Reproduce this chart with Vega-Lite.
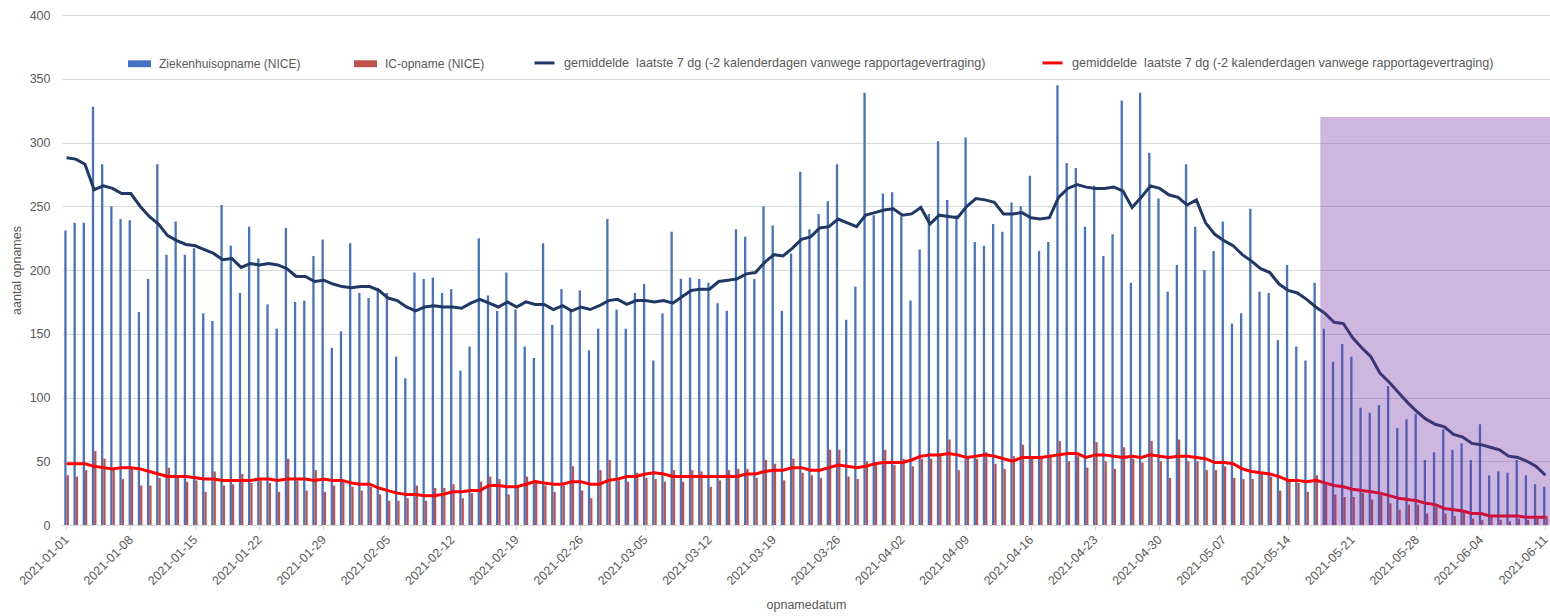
{
"$schema": "https://vega.github.io/schema/vega-lite/v6.json",
"width": 1488, "height": 510,
"autosize": {"type": "none"},
"padding": {"left": 62, "top": 15, "right": 0, "bottom": 91},
"background": "white",
"config": {"font": "Liberation Sans", "view": {"stroke": null}},
"datasets": {"main": [
{"d":"2021-01-01","zh":231,"ic":39,"zh7":288,"ic7":48},
{"d":"2021-01-02","zh":237,"ic":38,"zh7":287,"ic7":48},
{"d":"2021-01-03","zh":237,"ic":43,"zh7":283,"ic7":48},
{"d":"2021-01-04","zh":328,"ic":58,"zh7":263,"ic7":46},
{"d":"2021-01-05","zh":283,"ic":52,"zh7":266,"ic7":45},
{"d":"2021-01-06","zh":250,"ic":44,"zh7":264,"ic7":44},
{"d":"2021-01-07","zh":240,"ic":36,"zh7":260,"ic7":45},
{"d":"2021-01-08","zh":239,"ic":44,"zh7":260,"ic7":45},
{"d":"2021-01-09","zh":167,"ic":31,"zh7":250,"ic7":44},
{"d":"2021-01-10","zh":193,"ic":31,"zh7":242,"ic7":42},
{"d":"2021-01-11","zh":283,"ic":37,"zh7":236,"ic7":40},
{"d":"2021-01-12","zh":212,"ic":45,"zh7":227,"ic7":38},
{"d":"2021-01-13","zh":238,"ic":37,"zh7":223,"ic7":38},
{"d":"2021-01-14","zh":212,"ic":34,"zh7":220,"ic7":38},
{"d":"2021-01-15","zh":217,"ic":35,"zh7":219,"ic7":37},
{"d":"2021-01-16","zh":166,"ic":26,"zh7":216,"ic7":36},
{"d":"2021-01-17","zh":160,"ic":42,"zh7":213,"ic7":36},
{"d":"2021-01-18","zh":251,"ic":31,"zh7":208,"ic7":35},
{"d":"2021-01-19","zh":219,"ic":32,"zh7":209,"ic7":35},
{"d":"2021-01-20","zh":182,"ic":40,"zh7":202,"ic7":35},
{"d":"2021-01-21","zh":234,"ic":33,"zh7":205,"ic7":35},
{"d":"2021-01-22","zh":209,"ic":35,"zh7":204,"ic7":36},
{"d":"2021-01-23","zh":173,"ic":33,"zh7":205,"ic7":36},
{"d":"2021-01-24","zh":154,"ic":26,"zh7":204,"ic7":35},
{"d":"2021-01-25","zh":233,"ic":52,"zh7":201,"ic7":36},
{"d":"2021-01-26","zh":175,"ic":35,"zh7":195,"ic7":36},
{"d":"2021-01-27","zh":176,"ic":27,"zh7":195,"ic7":36},
{"d":"2021-01-28","zh":211,"ic":43,"zh7":191,"ic7":35},
{"d":"2021-01-29","zh":224,"ic":26,"zh7":192,"ic7":36},
{"d":"2021-01-30","zh":139,"ic":31,"zh7":189,"ic7":35},
{"d":"2021-01-31","zh":152,"ic":35,"zh7":187,"ic7":35},
{"d":"2021-02-01","zh":221,"ic":30,"zh7":186,"ic7":33},
{"d":"2021-02-02","zh":182,"ic":27,"zh7":187,"ic7":32},
{"d":"2021-02-03","zh":178,"ic":30,"zh7":187,"ic7":32},
{"d":"2021-02-04","zh":186,"ic":24,"zh7":184,"ic7":29},
{"d":"2021-02-05","zh":182,"ic":19,"zh7":178,"ic7":27},
{"d":"2021-02-06","zh":132,"ic":19,"zh7":176,"ic7":25},
{"d":"2021-02-07","zh":115,"ic":21,"zh7":171,"ic7":24},
{"d":"2021-02-08","zh":198,"ic":31,"zh7":168,"ic7":24},
{"d":"2021-02-09","zh":193,"ic":19,"zh7":171,"ic7":23},
{"d":"2021-02-10","zh":194,"ic":29,"zh7":172,"ic7":23},
{"d":"2021-02-11","zh":182,"ic":29,"zh7":171,"ic7":24},
{"d":"2021-02-12","zh":185,"ic":32,"zh7":171,"ic7":26},
{"d":"2021-02-13","zh":121,"ic":21,"zh7":170,"ic7":26},
{"d":"2021-02-14","zh":140,"ic":25,"zh7":174,"ic7":27},
{"d":"2021-02-15","zh":225,"ic":34,"zh7":177,"ic7":27},
{"d":"2021-02-16","zh":180,"ic":38,"zh7":174,"ic7":31},
{"d":"2021-02-17","zh":168,"ic":36,"zh7":171,"ic7":31},
{"d":"2021-02-18","zh":198,"ic":24,"zh7":175,"ic7":30},
{"d":"2021-02-19","zh":169,"ic":30,"zh7":171,"ic7":30},
{"d":"2021-02-20","zh":140,"ic":38,"zh7":175,"ic7":32},
{"d":"2021-02-21","zh":131,"ic":35,"zh7":173,"ic7":34},
{"d":"2021-02-22","zh":221,"ic":31,"zh7":173,"ic7":33},
{"d":"2021-02-23","zh":157,"ic":26,"zh7":169,"ic7":32},
{"d":"2021-02-24","zh":185,"ic":31,"zh7":172,"ic7":32},
{"d":"2021-02-25","zh":168,"ic":46,"zh7":168,"ic7":34},
{"d":"2021-02-26","zh":184,"ic":27,"zh7":171,"ic7":34},
{"d":"2021-02-27","zh":137,"ic":21,"zh7":169,"ic7":32},
{"d":"2021-02-28","zh":154,"ic":43,"zh7":172,"ic7":32},
{"d":"2021-03-01","zh":240,"ic":51,"zh7":176,"ic7":35},
{"d":"2021-03-02","zh":169,"ic":35,"zh7":177,"ic7":36},
{"d":"2021-03-03","zh":154,"ic":34,"zh7":173,"ic7":38},
{"d":"2021-03-04","zh":182,"ic":41,"zh7":176,"ic7":38},
{"d":"2021-03-05","zh":189,"ic":37,"zh7":176,"ic7":40},
{"d":"2021-03-06","zh":129,"ic":36,"zh7":175,"ic7":41},
{"d":"2021-03-07","zh":166,"ic":34,"zh7":176,"ic7":40},
{"d":"2021-03-08","zh":230,"ic":43,"zh7":174,"ic7":38},
{"d":"2021-03-09","zh":193,"ic":34,"zh7":179,"ic7":38},
{"d":"2021-03-10","zh":194,"ic":43,"zh7":184,"ic7":38},
{"d":"2021-03-11","zh":193,"ic":42,"zh7":185,"ic7":38},
{"d":"2021-03-12","zh":190,"ic":30,"zh7":185,"ic7":38},
{"d":"2021-03-13","zh":174,"ic":35,"zh7":191,"ic7":38},
{"d":"2021-03-14","zh":168,"ic":43,"zh7":192,"ic7":38},
{"d":"2021-03-15","zh":232,"ic":44,"zh7":193,"ic7":38},
{"d":"2021-03-16","zh":226,"ic":44,"zh7":197,"ic7":40},
{"d":"2021-03-17","zh":193,"ic":37,"zh7":198,"ic7":40},
{"d":"2021-03-18","zh":250,"ic":51,"zh7":206,"ic7":42},
{"d":"2021-03-19","zh":235,"ic":48,"zh7":212,"ic7":43},
{"d":"2021-03-20","zh":168,"ic":35,"zh7":211,"ic7":43},
{"d":"2021-03-21","zh":213,"ic":52,"zh7":217,"ic7":45},
{"d":"2021-03-22","zh":277,"ic":41,"zh7":224,"ic7":45},
{"d":"2021-03-23","zh":232,"ic":39,"zh7":226,"ic7":43},
{"d":"2021-03-24","zh":244,"ic":37,"zh7":233,"ic7":43},
{"d":"2021-03-25","zh":254,"ic":59,"zh7":234,"ic7":45},
{"d":"2021-03-26","zh":283,"ic":59,"zh7":240,"ic7":47},
{"d":"2021-03-27","zh":161,"ic":38,"zh7":237,"ic7":46},
{"d":"2021-03-28","zh":187,"ic":36,"zh7":234,"ic7":45},
{"d":"2021-03-29","zh":339,"ic":50,"zh7":243,"ic7":46},
{"d":"2021-03-30","zh":243,"ic":47,"zh7":245,"ic7":48},
{"d":"2021-03-31","zh":260,"ic":59,"zh7":247,"ic7":49},
{"d":"2021-04-01","zh":261,"ic":47,"zh7":248,"ic7":49},
{"d":"2021-04-02","zh":242,"ic":52,"zh7":243,"ic7":49},
{"d":"2021-04-03","zh":176,"ic":46,"zh7":244,"ic7":51},
{"d":"2021-04-04","zh":216,"ic":52,"zh7":249,"ic7":54},
{"d":"2021-04-05","zh":244,"ic":52,"zh7":236,"ic7":55},
{"d":"2021-04-06","zh":301,"ic":54,"zh7":243,"ic7":55},
{"d":"2021-04-07","zh":255,"ic":67,"zh7":242,"ic7":56},
{"d":"2021-04-08","zh":243,"ic":43,"zh7":241,"ic7":55},
{"d":"2021-04-09","zh":304,"ic":54,"zh7":250,"ic7":53},
{"d":"2021-04-10","zh":222,"ic":52,"zh7":256,"ic7":54},
{"d":"2021-04-11","zh":219,"ic":57,"zh7":255,"ic7":55},
{"d":"2021-04-12","zh":236,"ic":48,"zh7":253,"ic7":54},
{"d":"2021-04-13","zh":230,"ic":44,"zh7":244,"ic7":52},
{"d":"2021-04-14","zh":253,"ic":54,"zh7":244,"ic7":50},
{"d":"2021-04-15","zh":250,"ic":63,"zh7":245,"ic7":53},
{"d":"2021-04-16","zh":274,"ic":54,"zh7":241,"ic7":53},
{"d":"2021-04-17","zh":215,"ic":54,"zh7":240,"ic7":53},
{"d":"2021-04-18","zh":222,"ic":55,"zh7":241,"ic7":54},
{"d":"2021-04-19","zh":345,"ic":66,"zh7":257,"ic7":55},
{"d":"2021-04-20","zh":284,"ic":50,"zh7":264,"ic7":56},
{"d":"2021-04-21","zh":280,"ic":54,"zh7":267,"ic7":56},
{"d":"2021-04-22","zh":234,"ic":45,"zh7":265,"ic7":53},
{"d":"2021-04-23","zh":266,"ic":65,"zh7":264,"ic7":55},
{"d":"2021-04-24","zh":211,"ic":50,"zh7":264,"ic7":55},
{"d":"2021-04-25","zh":228,"ic":44,"zh7":265,"ic7":54},
{"d":"2021-04-26","zh":333,"ic":61,"zh7":262,"ic7":53},
{"d":"2021-04-27","zh":190,"ic":52,"zh7":249,"ic7":54},
{"d":"2021-04-28","zh":339,"ic":49,"zh7":257,"ic7":53},
{"d":"2021-04-29","zh":292,"ic":66,"zh7":266,"ic7":55},
{"d":"2021-04-30","zh":256,"ic":50,"zh7":264,"ic7":54},
{"d":"2021-05-01","zh":183,"ic":37,"zh7":259,"ic7":53},
{"d":"2021-05-02","zh":204,"ic":67,"zh7":257,"ic7":54},
{"d":"2021-05-03","zh":283,"ic":50,"zh7":251,"ic7":54},
{"d":"2021-05-04","zh":234,"ic":50,"zh7":255,"ic7":53},
{"d":"2021-05-05","zh":200,"ic":43,"zh7":237,"ic7":52},
{"d":"2021-05-06","zh":215,"ic":43,"zh7":228,"ic7":49},
{"d":"2021-05-07","zh":238,"ic":46,"zh7":223,"ic7":49},
{"d":"2021-05-08","zh":158,"ic":37,"zh7":219,"ic7":48},
{"d":"2021-05-09","zh":166,"ic":36,"zh7":212,"ic7":44},
{"d":"2021-05-10","zh":248,"ic":36,"zh7":207,"ic7":42},
{"d":"2021-05-11","zh":183,"ic":40,"zh7":201,"ic7":41},
{"d":"2021-05-12","zh":182,"ic":38,"zh7":198,"ic7":40},
{"d":"2021-05-13","zh":145,"ic":27,"zh7":189,"ic7":38},
{"d":"2021-05-14","zh":204,"ic":34,"zh7":184,"ic7":35},
{"d":"2021-05-15","zh":140,"ic":33,"zh7":182,"ic7":35},
{"d":"2021-05-16","zh":129,"ic":26,"zh7":177,"ic7":34},
{"d":"2021-05-17","zh":190,"ic":39,"zh7":171,"ic7":35},
{"d":"2021-05-18","zh":154,"ic":33,"zh7":166,"ic7":33},
{"d":"2021-05-19","zh":128,"ic":24,"zh7":159,"ic7":31},
{"d":"2021-05-20","zh":142,"ic":22,"zh7":158,"ic7":30},
{"d":"2021-05-21","zh":132,"ic":22,"zh7":147,"ic7":28},
{"d":"2021-05-22","zh":92,"ic":25,"zh7":139,"ic7":27},
{"d":"2021-05-23","zh":88,"ic":20,"zh7":132,"ic7":26},
{"d":"2021-05-24","zh":94,"ic":24,"zh7":119,"ic7":25},
{"d":"2021-05-25","zh":109,"ic":17,"zh7":112,"ic7":23},
{"d":"2021-05-26","zh":76,"ic":12,"zh7":104,"ic7":21},
{"d":"2021-05-27","zh":83,"ic":16,"zh7":96,"ic7":20},
{"d":"2021-05-28","zh":87,"ic":16,"zh7":89,"ic7":19},
{"d":"2021-05-29","zh":51,"ic":9,"zh7":83,"ic7":17},
{"d":"2021-05-30","zh":57,"ic":14,"zh7":79,"ic7":16},
{"d":"2021-05-31","zh":75,"ic":9,"zh7":77,"ic7":13},
{"d":"2021-06-01","zh":59,"ic":7,"zh7":71,"ic7":12},
{"d":"2021-06-02","zh":64,"ic":11,"zh7":69,"ic7":11},
{"d":"2021-06-03","zh":51,"ic":5,"zh7":64,"ic7":9},
{"d":"2021-06-04","zh":79,"ic":4,"zh7":63,"ic7":9},
{"d":"2021-06-05","zh":39,"ic":6,"zh7":61,"ic7":7},
{"d":"2021-06-06","zh":42,"ic":4,"zh7":59,"ic7":7},
{"d":"2021-06-07","zh":41,"ic":3,"zh7":54,"ic7":7},
{"d":"2021-06-08","zh":51,"ic":5,"zh7":53,"ic7":7},
{"d":"2021-06-09","zh":39,"ic":4,"zh7":50,"ic7":6},
{"d":"2021-06-10","zh":32,"ic":5,"zh7":46,"ic7":6},
{"d":"2021-06-11","zh":30,"ic":7,"zh7":39,"ic7":6}
],
"shade": [{"s": "2021-05-18", "e": "2021-06-11", "top": 320, "bottom": 0}]
},
"layer": [
{
"data": {"name": "main"},
"transform": [{"fold": ["zh", "ic"], "as": ["k", "v"]}],
"mark": {"type": "bar"},
"encoding": {
"x": {"field": "d", "type": "ordinal", "title": "opnamedatum",
  "scale": {"paddingInner": 0, "paddingOuter": 0},
  "axis": {"values": ["2021-01-01","2021-01-08","2021-01-15","2021-01-22","2021-01-29","2021-02-05","2021-02-12","2021-02-19","2021-02-26","2021-03-05","2021-03-12","2021-03-19","2021-03-26","2021-04-02","2021-04-09","2021-04-16","2021-04-23","2021-04-30","2021-05-07","2021-05-14","2021-05-21","2021-05-28","2021-06-04","2021-06-11"],
   "labelAngle": -45, "labelAlign": "right", "labelBaseline": "top", "labelOverlap": false, "labelFontSize": 12.5, "labelColor": "#595959", "labelPadding": 3, "labelOffset": -4,
   "domainColor": "#d9d9d9", "tickColor": "#d9d9d9", "tickSize": 5, "grid": false,
   "titleFontSize": 12.5, "titleFontWeight": "normal", "titleColor": "#595959", "titlePadding": 11}},
"xOffset": {"field": "k", "type": "nominal", "scale": {"domain": ["zh", "ic"], "paddingInner": 0, "paddingOuter": 1}},
"y": {"field": "v", "type": "quantitative", "title": "aantal opnames",
  "scale": {"domain": [0, 400], "nice": false},
  "axis": {"values": [0,50,100,150,200,250,300,350,400], "grid": true, "gridColor": "#d9d9d9", "domain": false, "ticks": false, "labelPadding": 12, "labelFontSize": 12.5, "labelColor": "#595959", "titleFontSize": 12.5, "titleFontWeight": "normal", "titleColor": "#595959", "titlePadding": 6}},
"color": {"field": "k", "type": "nominal", "scale": {"domain": ["zh", "ic"], "range": ["#4472C4", "#C0504D"]},
  "legend": {"title": null, "orient": "none", "legendX": 65, "legendY": 36, "direction": "horizontal", "symbolType": "M-1,-0.3H1V0.3H-1Z", "symbolSize": 529, "symbolOpacity": 1, "labelOffset": 7, "columnPadding": 52, "labelFontSize": 12, "labelColor": "#595959", "labelLimit": 600,
   "labelExpr": "datum.value == 'zh' ? 'Ziekenhuisopname (NICE)' : 'IC-opname (NICE)'"}}
}
},
{
"data": {"name": "main"},
"transform": [{"fold": ["zh7", "ic7"], "as": ["k2", "v2"]}],
"mark": {"type": "line", "strokeWidth": 3},
"encoding": {
"x": {"field": "d", "type": "ordinal"},
"y": {"field": "v2", "type": "quantitative"},
"stroke": {"field": "k2", "type": "nominal", "scale": {"domain": ["zh7", "ic7"], "range": ["#203864", "#FF0000"]},
  "legend": {"title": null, "orient": "none", "legendX": 471, "legendY": 36, "direction": "horizontal", "symbolType": "stroke", "symbolSize": 400, "symbolStrokeWidth": 3, "labelOffset": 8, "columnPadding": 50, "labelFontSize": 12.6, "labelColor": "#595959", "labelLimit": 800,
   "labelExpr": "'gemiddelde\u00a0 laatste 7 dg (-2 kalenderdagen vanwege rapportagevertraging)'"}}
}
},
{
"data": {"name": "shade"},
"mark": {"type": "rect", "fill": "#7030A0", "opacity": 0.35},
"encoding": {
"x": {"field": "s", "type": "ordinal", "bandPosition": 0},
"x2": {"field": "e", "bandPosition": 1},
"y": {"field": "top", "type": "quantitative"},
"y2": {"field": "bottom"}
}
}
]
}
